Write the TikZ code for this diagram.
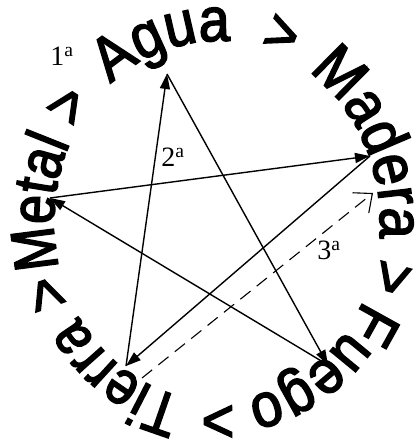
\documentclass[tikz,border=0pt]{standalone}
\usepackage{fontspec}
\setmainfont{Liberation Serif}
\newfontfamily\wafont[FakeStretch=0.9,FakeBold=2.5]{Liberation Sans}
\newfontfamily\wafontn[FakeStretch=0.84,FakeBold=2.5]{Liberation Sans}
\usetikzlibrary{arrows.meta,decorations.text}
\newcommand\WArc[3][\wafont]{%
  \path[decorate,decoration={text along path, text align=center,
    text={|#1\fontsize{62}{62}\selectfont|#3}}]
    ([shift={({#2+45}:163 and 180)}]217,-221) arc[start angle={#2+45},end angle={#2-45},x radius=163,y radius=180];}
\begin{document}
\begin{tikzpicture}[x=1pt,y=1pt,
  conn/.style={line width=1.4pt,-{Triangle[length=15pt,width=10pt]}},
  dashconn/.style={line width=1.1pt,dash pattern=on 13pt off 8pt,-{Straight Barb[length=15pt,width=26pt,line width=1.1pt]}},
  lbl/.style={font=\fontsize{28}{28}\selectfont, inner sep=0pt}]
\useasboundingbox (0,0) rectangle (419,-444);
\WArc{107.4}{Agua}
\WArc{70.3}{>}
\WArc{25.8}{Madera}
\WArc{-17.5}{>}
\WArc{-53.5}{Fuego}
\WArc{-89.7}{>}
\WArc[\wafontn]{-124}{Tierra}
\WArc{-157.5}{>}
\WArc[\wafontn]{174.5}{Metal}
\WArc{143}{>}
\coordinate (agua) at (167,-74);
\coordinate (madera) at (370,-156);
\coordinate (fuego) at (328,-365);
\coordinate (tierra) at (126,-366);
\coordinate (metal) at (50,-198);
\coordinate (ds) at (142,-378);
\coordinate (de) at (373,-193);
\draw[conn] (tierra) -- (agua);
\draw[conn] (agua) -- (fuego);
\draw[conn] (fuego) -- (metal);
\draw[conn] (metal) -- (madera);
\draw[conn] (madera) -- (tierra);
\draw[dashconn] (ds) -- (de);
\node[lbl] (l1) at (62,-56) {1\textsuperscript{a}};
\node[lbl] (l2) at (173,-157) {2\textsuperscript{a}};
\node[lbl] (l3) at (329,-250) {3\textsuperscript{a}};
\end{tikzpicture}
\end{document}
